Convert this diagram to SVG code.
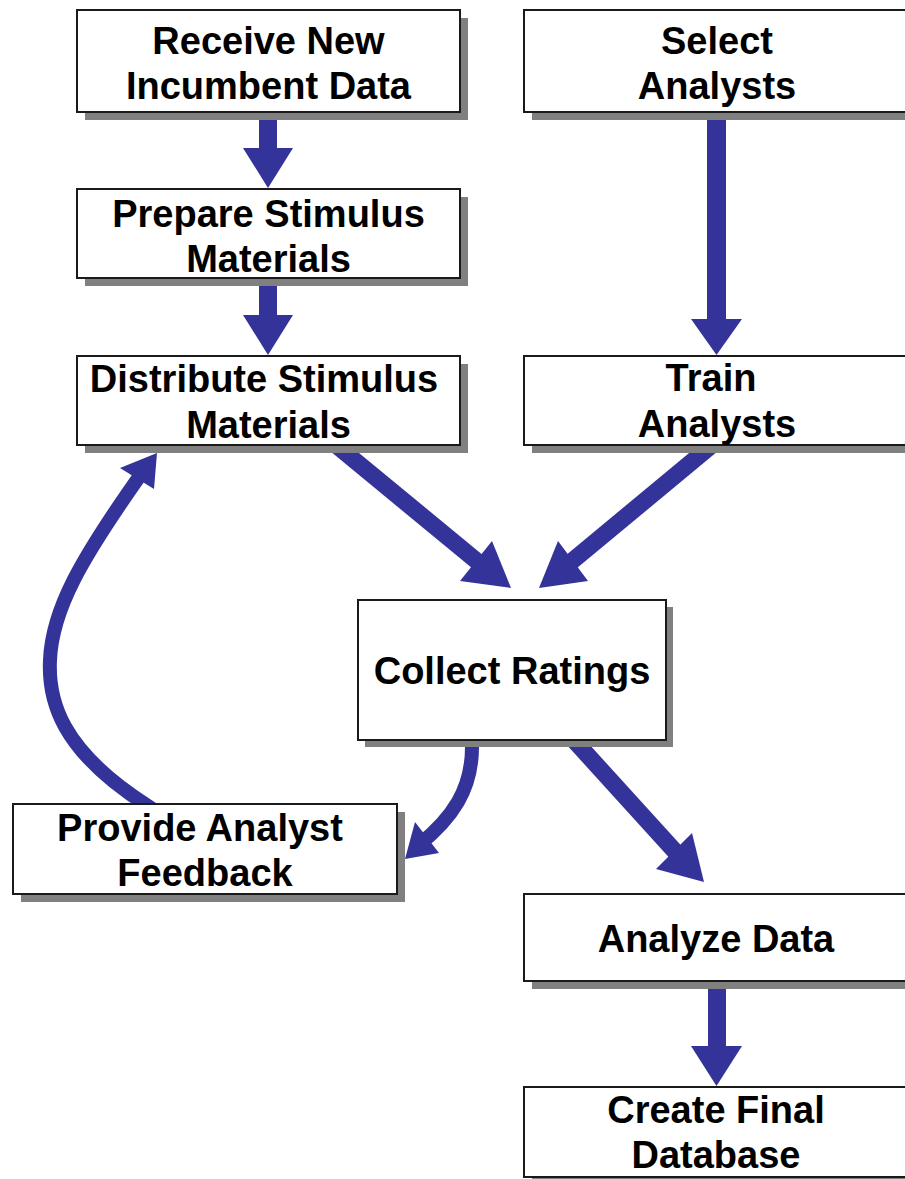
<svg xmlns="http://www.w3.org/2000/svg" width="905" height="1179" viewBox="0 0 905 1179">
<style>
.box{fill:#ffffff;stroke:#1a1a1a;stroke-width:2}
.shadow{fill:#808080}
.lbl{font-family:"Liberation Sans",Arial,sans-serif;font-weight:bold;font-size:38px;fill:#000;text-anchor:middle}
.shaft{fill:#333399}
.head{fill:#333399}
.line{fill:none;stroke:#333399;stroke-width:17}
.curve{fill:none;stroke:#333399;stroke-width:14}
</style>
<rect width="905" height="1179" fill="#ffffff"/>
<g id="connectors">
  <rect class="shaft" x="259" y="110" width="18" height="40"/>
  <polygon class="head" points="243,148 293,148 268,188"/>
  <rect class="shaft" x="259" y="276" width="18" height="41"/>
  <polygon class="head" points="243,315 293,315 268,355"/>
  <rect class="shaft" x="707" y="110" width="19" height="211"/>
  <polygon class="head" points="691,319 742,319 716.5,355"/>
  <rect class="shaft" x="708" y="975" width="18" height="73"/>
  <polygon class="head" points="691,1046 742,1046 716.5,1086"/>
  <line class="line" x1="336" y1="445" x2="484" y2="567"/>
  <polygon class="head" points="511,588 492,541 460,581"/>
  <line class="line" x1="712" y1="445" x2="565" y2="567"/>
  <polygon class="head" points="539,588 558,541 588,581"/>
  <line class="line" x1="572" y1="738" x2="681" y2="858"/>
  <polygon class="head" points="704,882 692,833 656,869"/>
  <path class="curve" d="M472,738 L472,747 C472,790 452,818 419,845"/>
  <polygon class="head" points="405,859 415,822 439,853"/>
  <path class="curve" d="M160,814 L148,806 C60,750 48,700 50,660 C52,610 80,560 144,470"/>
  <polygon class="head" points="157,453 120,468 154,489"/>
</g>
<g id="receive">
  <rect class="shadow" x="85" y="18" width="383" height="102"/>
  <rect class="box" x="77" y="10" width="383" height="102"/>
  <text class="lbl" x="268.5" y="54">Receive New</text>
  <text class="lbl" x="268.5" y="99">Incumbent Data</text>
</g>
<g id="select">
  <rect class="shadow" x="532" y="18" width="386" height="102"/>
  <rect class="box" x="524" y="10" width="386" height="102"/>
  <text class="lbl" x="717" y="54">Select</text>
  <text class="lbl" x="717" y="99">Analysts</text>
</g>
<g id="prepare">
  <rect class="shadow" x="85" y="197" width="383" height="89"/>
  <rect class="box" x="77" y="189" width="383" height="89"/>
  <text class="lbl" x="268.5" y="227">Prepare Stimulus</text>
  <text class="lbl" x="268.5" y="272">Materials</text>
</g>
<g id="distribute">
  <rect class="shadow" x="85" y="364" width="383" height="89"/>
  <rect class="box" x="77" y="356" width="383" height="89"/>
  <text class="lbl" x="264" y="392">Distribute Stimulus</text>
  <text class="lbl" x="268.5" y="438">Materials</text>
</g>
<g id="train">
  <rect class="shadow" x="532" y="364" width="386" height="89"/>
  <rect class="box" x="524" y="356" width="386" height="89"/>
  <text class="lbl" x="711" y="391">Train</text>
  <text class="lbl" x="717" y="437">Analysts</text>
</g>
<g id="collect">
  <rect class="shadow" x="365" y="607" width="308" height="140"/>
  <rect class="box" x="358" y="600" width="308" height="140"/>
  <text class="lbl" x="512" y="684">Collect Ratings</text>
</g>
<g id="feedback">
  <rect class="shadow" x="21" y="812" width="384" height="90"/>
  <rect class="box" x="13" y="804" width="384" height="90"/>
  <text class="lbl" x="200" y="841">Provide Analyst</text>
  <text class="lbl" x="205" y="886">Feedback</text>
</g>
<g id="analyze">
  <rect class="shadow" x="532" y="902" width="386" height="87"/>
  <rect class="box" x="524" y="894" width="386" height="87"/>
  <text class="lbl" x="716" y="952">Analyze Data</text>
</g>
<g id="create">
  <rect class="shadow" x="532" y="1095" width="386" height="90"/>
  <rect class="box" x="524" y="1087" width="386" height="90"/>
  <text class="lbl" x="716" y="1123">Create Final</text>
  <text class="lbl" x="716" y="1168">Database</text>
</g>
</svg>
